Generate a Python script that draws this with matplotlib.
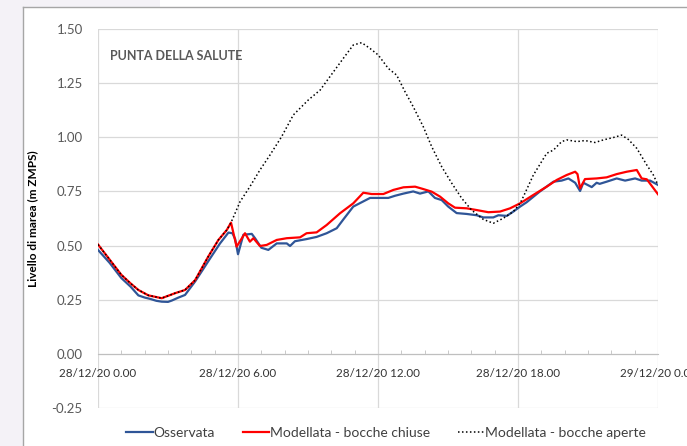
from matplotlib import pyplot as plt
from matplotlib.patches import Rectangle
from matplotlib.lines import Line2D
from matplotlib.ticker import MultipleLocator

plt.rcParams['font.family'] = ['Lato', 'DejaVu Sans']

# hours from 28/12/20 0.00
oss_h = [0, 0.5, 1.0, 1.4, 1.73, 2.0, 2.23, 2.5, 2.73, 3.0, 3.16, 3.45, 3.73, 4.16, 4.5,
         4.8, 5.23, 5.59, 5.76, 5.88, 6.0, 6.23, 6.59, 6.73, 7.0, 7.3, 7.66, 8.09, 8.23, 8.44,
         8.94, 9.37, 9.8, 10.23, 10.51, 10.94, 11.3, 11.66, 12.09, 12.44, 12.73, 13.09, 13.51,
         13.8, 14.16, 14.44, 14.73, 15.01, 15.37, 15.8, 16.23, 16.51, 16.94, 17.16, 17.52,
         17.8, 18.09, 18.37, 18.94, 19.52, 19.87, 20.16, 20.45, 20.66, 20.8, 21.16, 21.37,
         21.5, 21.8, 22.23, 22.59, 23.02, 23.3, 23.66, 24.0]
oss_v = [0.48, 0.42, 0.35, 0.31, 0.27, 0.26, 0.254, 0.245, 0.241, 0.24, 0.246, 0.26, 0.272,
         0.334, 0.39, 0.44, 0.51, 0.56, 0.557, 0.53, 0.46, 0.55, 0.554, 0.534, 0.49, 0.48,
         0.51, 0.51, 0.498, 0.52, 0.53, 0.54, 0.557, 0.58, 0.62, 0.68, 0.70, 0.72, 0.72, 0.72,
         0.73, 0.74, 0.75, 0.74, 0.75, 0.72, 0.71, 0.68, 0.65, 0.646, 0.64, 0.63, 0.63, 0.64,
         0.637, 0.657, 0.68, 0.70, 0.75, 0.795, 0.80, 0.81, 0.79, 0.752, 0.79, 0.77, 0.79,
         0.785, 0.795, 0.81, 0.80, 0.81, 0.80, 0.80, 0.78]

chiuse_h = [0, 0.5, 1.0, 1.4, 1.73, 2.16, 2.73, 3.3, 3.73, 4.16, 4.73, 5.16, 5.52, 5.7, 5.94,
            6.3, 6.51, 6.66, 6.94, 7.23, 7.66, 8.09, 8.66, 8.94, 9.37, 9.8, 10.37, 10.94,
            11.37, 11.73, 12.23, 12.66, 13.09, 13.59, 13.94, 14.3, 14.66, 15.01, 15.3, 15.8,
            16.23, 16.73, 17.23, 17.66, 18.09, 18.66, 19.23, 19.66, 20.09, 20.45, 20.55, 20.66,
            20.87, 21.37, 21.8, 22.23, 22.66, 23.09, 23.3, 23.52, 24.0]
chiuse_v = [0.505, 0.435, 0.365, 0.325, 0.295, 0.27, 0.257, 0.28, 0.295, 0.34, 0.45, 0.526,
            0.572, 0.606, 0.495, 0.557, 0.518, 0.534, 0.498, 0.503, 0.526, 0.534, 0.538, 0.557,
            0.561, 0.595, 0.649, 0.695, 0.744, 0.738, 0.738, 0.757, 0.769, 0.772, 0.761, 0.749,
            0.726, 0.695, 0.675, 0.672, 0.664, 0.654, 0.657, 0.672, 0.695, 0.734, 0.772, 0.803,
            0.826, 0.841, 0.83, 0.764, 0.807, 0.81, 0.815, 0.83, 0.841, 0.849, 0.81, 0.806, 0.737]

aperte_h = [0, 0.5, 1.0, 1.4, 1.73, 2.16, 2.73, 3.3, 3.73, 4.16, 4.73, 5.16, 5.52, 5.7, 6.09,
            6.51, 6.94, 7.37, 7.87, 8.37, 9.01, 9.52, 9.94, 10.51, 10.94, 11.3, 11.66, 12.01,
            12.44, 12.8, 13.16, 13.51, 13.94, 14.3, 14.73, 15.16, 15.59, 16.01, 16.51, 16.94,
            17.37, 17.8, 18.09, 18.23, 18.66, 19.23, 19.52, 19.87, 20.09, 20.52, 20.87, 21.3,
            21.66, 22.09, 22.44, 22.73, 23.09, 23.52, 23.8, 24.0]
aperte_v = [0.505, 0.435, 0.365, 0.325, 0.295, 0.27, 0.257, 0.28, 0.295, 0.34, 0.45, 0.526,
            0.572, 0.606, 0.703, 0.772, 0.849, 0.918, 1.003, 1.103, 1.172, 1.218, 1.28, 1.364,
            1.426, 1.437, 1.41, 1.38, 1.318, 1.287, 1.21, 1.141, 1.049, 0.957, 0.864, 0.788,
            0.718, 0.664, 0.621, 0.603, 0.626, 0.657, 0.695, 0.726, 0.826, 0.926, 0.941, 0.98,
            0.988, 0.98, 0.985, 0.976, 0.988, 0.999, 1.01, 0.99, 0.949, 0.872, 0.826, 0.78]

x_ticks = [0, 6, 12, 18, 24]
x_labels = ['28/12/20 0.00', '28/12/20 6.00', '28/12/20 12.00', '28/12/20 18.00', '29/12/20 0.00']

fig = plt.figure(figsize=(6.87, 4.46), dpi=100)
# light strip + chart frame like the screenshot
fig.add_artist(Rectangle((0, 0), 23 / 687, 1, transform=fig.transFigure,
                         facecolor='#f4f2f7', edgecolor='none', zorder=-2))
fig.add_artist(Rectangle((0, 1 - 7 / 446), 160 / 687, 7 / 446, transform=fig.transFigure,
                         facecolor='#f4f2f7', edgecolor='none', zorder=-2))
fig.add_artist(Line2D([23 / 687, 23 / 687], [0, 1 - 7 / 446], transform=fig.transFigure,
                      color='#a6a6a6', lw=1))
fig.add_artist(Line2D([23 / 687, 1], [1 - 7 / 446, 1 - 7 / 446], transform=fig.transFigure,
                      color='#a6a6a6', lw=1))

ax = fig.add_axes([98 / 687, 1 - 408 / 446, 560 / 687, 379 / 446])
ax.set_facecolor('none')

ax.plot(oss_h, oss_v, color='#2f5597', lw=1.6, label='Osservata', zorder=3)
ax.plot(chiuse_h, chiuse_v, color='#ff0000', lw=1.6, label='Modellata - bocche chiuse', zorder=4)
ax.plot(aperte_h, aperte_v, color='black', lw=1.1, linestyle=(0, (1, 1.6)),
        label='Modellata - bocche aperte', zorder=5)

ax.set_xlim(0, 24)
ax.set_ylim(-0.25, 1.5)
ax.set_yticks([-0.25, 0, 0.25, 0.5, 0.75, 1.0, 1.25, 1.5])
ax.set_yticklabels([f'{v:.2f}' for v in ax.get_yticks()])
ax.set_xticks(x_ticks)
ax.set_xticklabels(x_labels, fontweight='bold')
ax.xaxis.set_minor_locator(MultipleLocator(1))

ax.grid(True, color='#d9d9d9', lw=0.9, zorder=0)
ax.set_axisbelow(True)
for s in ['top', 'right', 'left']:
    ax.spines[s].set_visible(False)
ax.spines['bottom'].set_position(('data', 0))
ax.spines['bottom'].set_color('#bfbfbf')
ax.tick_params(axis='y', length=0, pad=11, labelsize=9.5, labelcolor='#595959')
ax.tick_params(axis='x', which='major', length=0, pad=10, labelsize=8.4, labelcolor='#333333')
ax.tick_params(axis='x', which='minor', direction='in', length=3, color='#bfbfbf')

ax.set_ylabel('Livello di marea (m ZMPS)', fontweight='bold', fontsize=8.5, labelpad=10)
ax.text(0.022, 0.929, 'PUNTA DELLA SALUTE', transform=ax.transAxes, fontweight='bold',
        fontsize=9, color='#595959', va='center', ha='left')

fig.legend(loc='center', bbox_to_anchor=(386 / 687, 1 - 433 / 446), ncol=3, frameon=False,
           fontsize=10, handlelength=1.9, columnspacing=2.0, handletextpad=0.05,
           labelcolor='#404040')

fig.savefig('out.png', dpi=100)
